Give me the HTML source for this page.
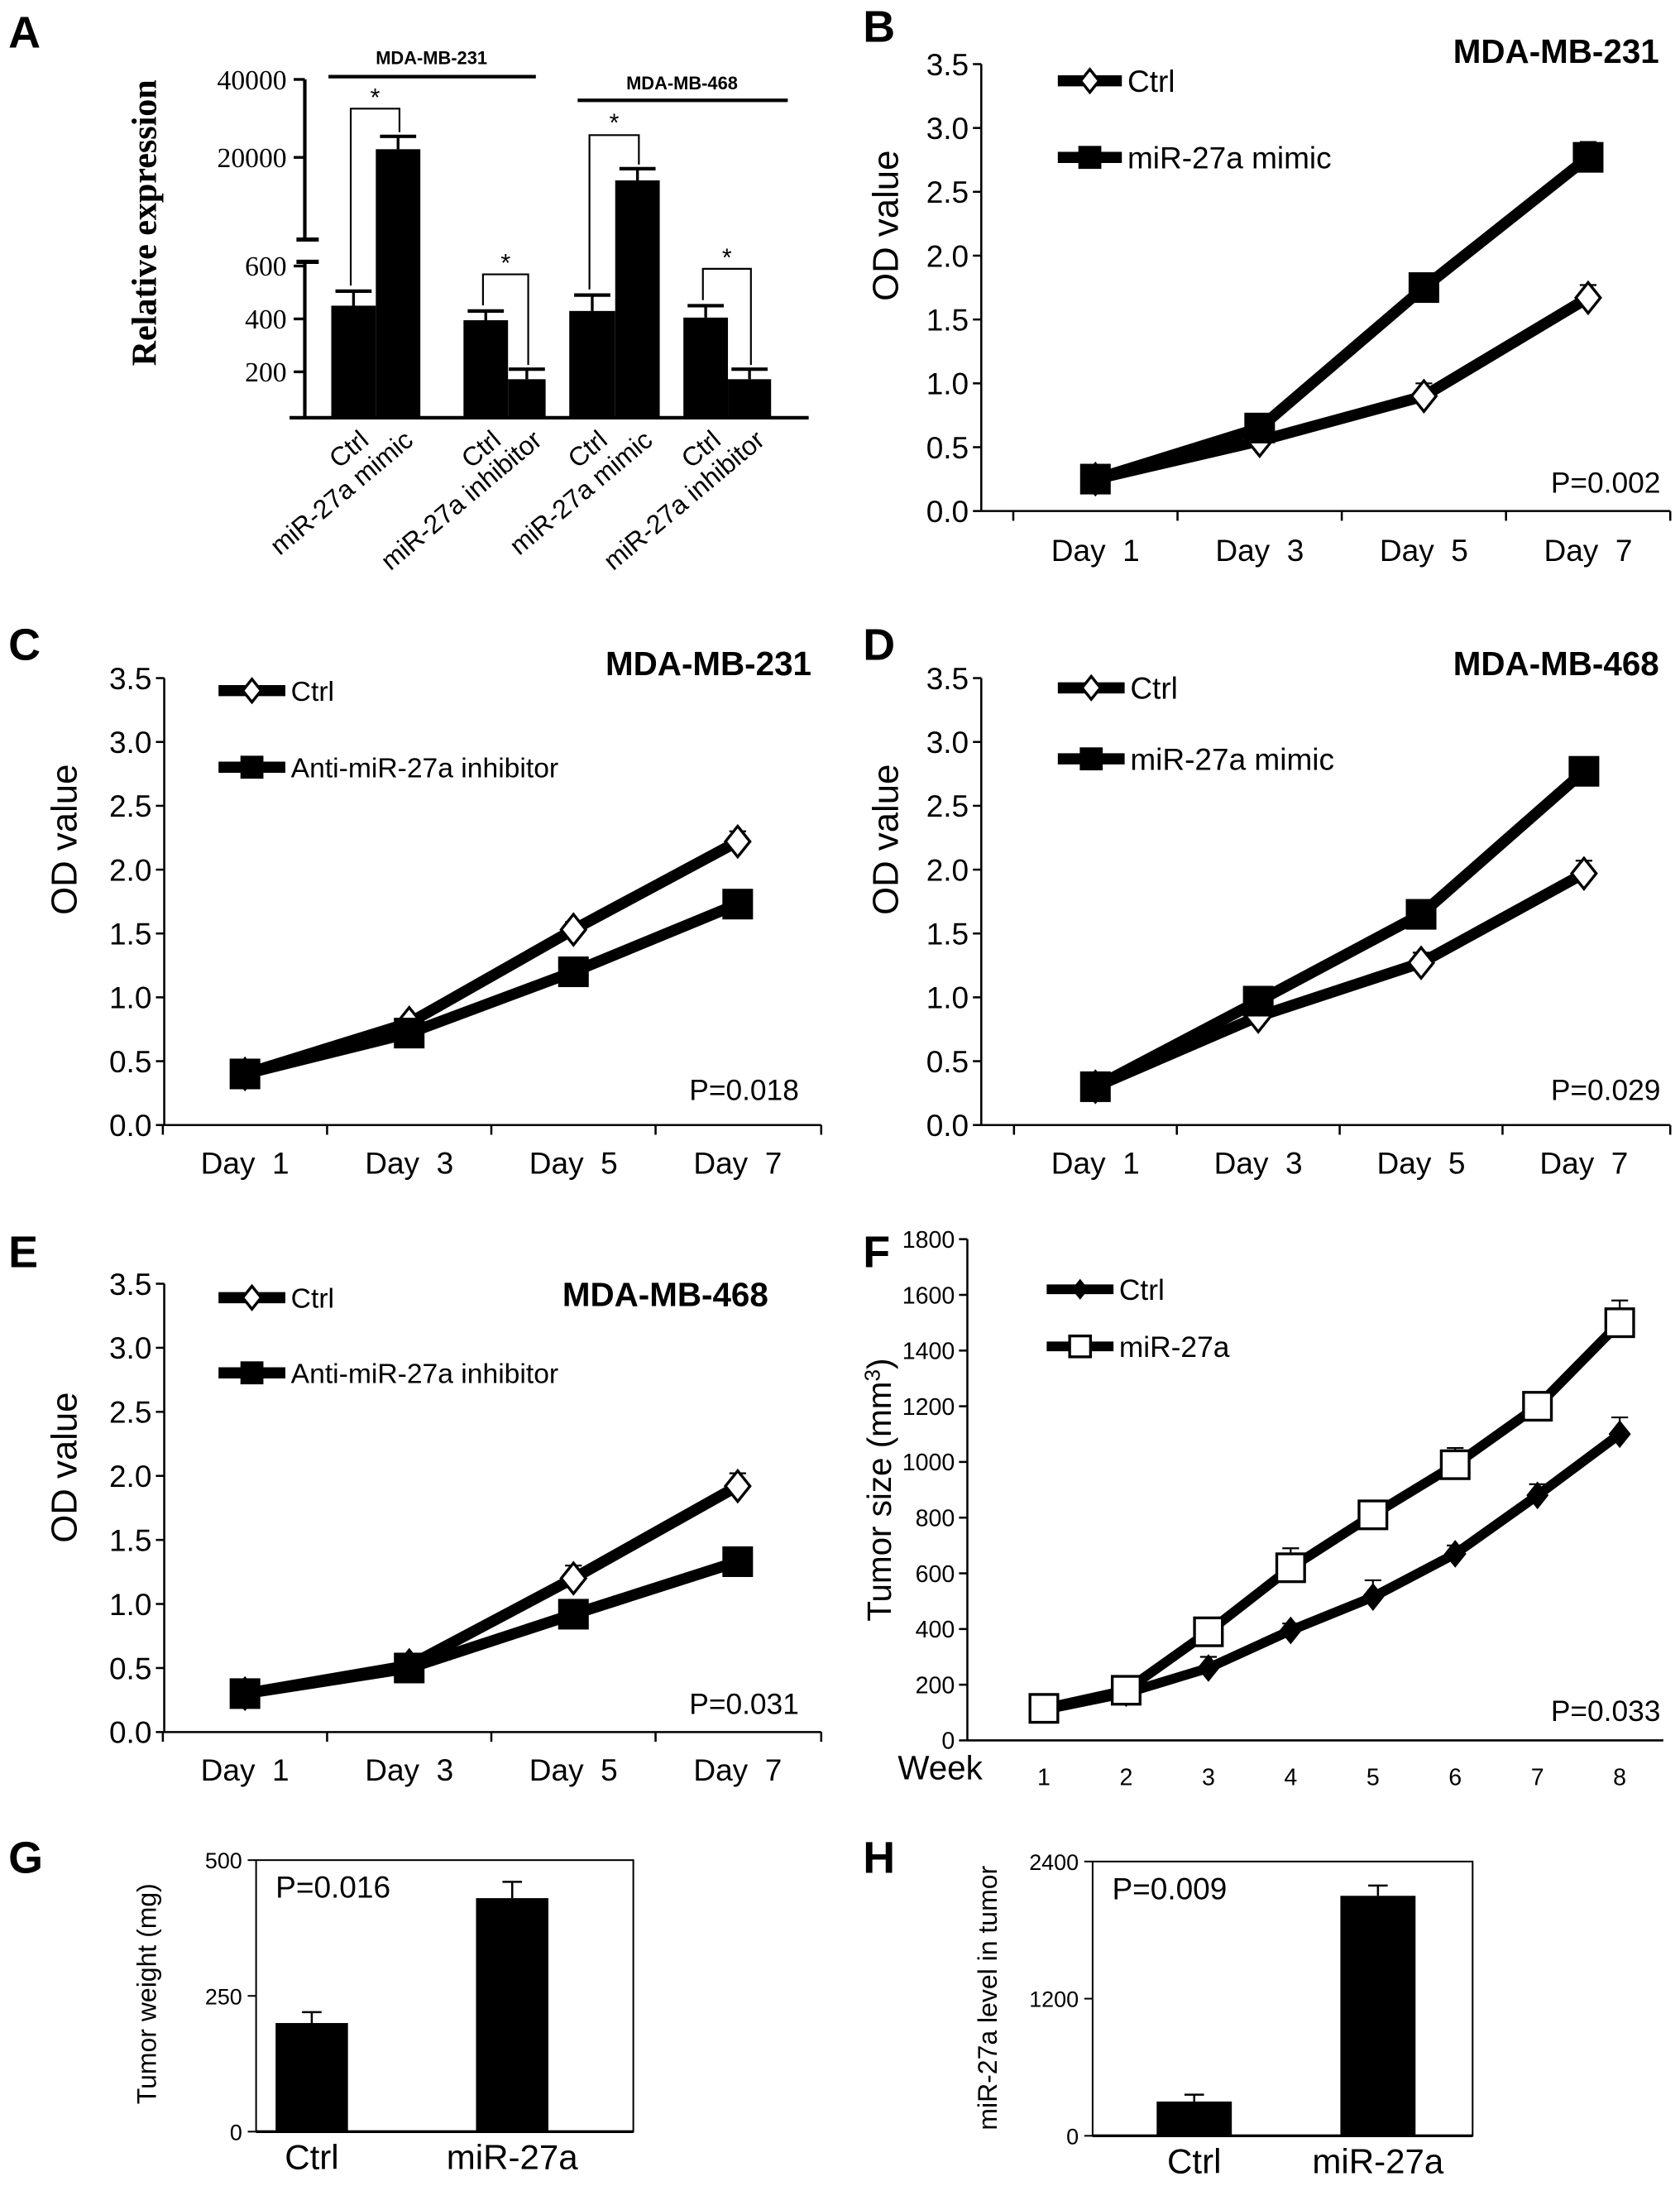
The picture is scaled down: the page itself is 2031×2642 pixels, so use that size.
<!DOCTYPE html>
<html><head><meta charset="utf-8"><style>
html,body{margin:0;padding:0;background:#fff}
svg{display:block}
text{font-family:"Liberation Sans",Arial,sans-serif;fill:#000;white-space:pre}
.serif{font-family:"Liberation Serif","Times New Roman",serif}
</style></head><body>
<svg id="fig" width="2031" height="2642" viewBox="0 0 1207 1570" xmlns="http://www.w3.org/2000/svg"></svg>
<script>
// ---- Panel A data ----
const aCats = ["Ctrl","miR-27a mimic","Ctrl","miR-27a inhibitor","Ctrl","miR-27a mimic","Ctrl","miR-27a inhibitor"];
const aVals = [450,22100,395,172,430,14100,405,172];
const aErrs = [55,3300,35,38,60,3000,45,38];
const aUpperTicks = [20000,40000];
const aLowerTicks = [200,400,600];
// ---- Line chart data ----
const dayLabels = ["Day  1","Day  3","Day  5","Day  7"];
const odTicks = [0,0.5,1,1.5,2,2.5,3,3.5];
const bCtrl = [0.25,0.55,0.9,1.67];
const bMimic = [0.25,0.65,1.75,2.77];
const bCtrlErr = [0.03,0.05,0.1,0.1];
const bMimicErr = [0.03,0.05,0.1,0.12];
const cCtrl = [0.4,0.8,1.53,2.22];
const cInh = [0.4,0.72,1.2,1.73];
const cCtrlErr = [0.03,0.05,0.06,0.08];
const cInhErr = [0.03,0.04,0.05,0.06];
const dCtrl = [0.3,0.85,1.27,1.97];
const dMimic = [0.3,0.97,1.65,2.77];
const dCtrlErr = [0.03,0.04,0.08,0.1];
const dMimicErr = [0.03,0.05,0.07,0.08];
const eCtrl = [0.3,0.52,1.2,1.92];
const eInh = [0.3,0.5,0.92,1.33];
const eCtrlErr = [0.03,0.05,0.1,0.1];
const eInhErr = [0.03,0.04,0.05,0.06];
const weekLabels = ["1","2","3","4","5","6","7","8"];
const fTicks = [0,200,400,600,800,1000,1200,1400,1600,1800];
const fCtrl = [110,170,260,395,515,670,880,1100];
const fMir = [115,180,390,620,810,990,1200,1500];
const fCtrlErr = [15,20,40,25,60,30,40,60];
const fMirErr = [20,25,30,70,30,60,30,80];
const gCats = ["Ctrl","miR-27a"];
const gVals = [200,430];
const gErrs = [20,30];
const gTicks = [0,250,500];
const hCats = ["Ctrl","miR-27a"];
const hVals = [300,2100];
const hErrs = [60,90];
const hTicks = [0,1200,2400];

const svg = document.getElementById('fig');
const NS = 'http://www.w3.org/2000/svg';
function mk(tag, attrs, parent){
  const e = document.createElementNS(NS, tag);
  for (const k in attrs) e.setAttribute(k, attrs[k]);
  (parent||svg).appendChild(e);
  return e;
}
function txt(s, x, y, size, opts, parent){
  opts = opts||{};
  const t = mk('text', {x:x, y:y, 'font-size':size}, parent);
  if (opts.anchor) t.setAttribute('text-anchor', opts.anchor);
  if (opts.weight) t.setAttribute('font-weight', opts.weight);
  if (opts.cls) t.setAttribute('class', opts.cls);
  if (opts.rot !== undefined) t.setAttribute('transform', 'rotate(' + opts.rot + ' ' + x + ' ' + y + ')');
  t.textContent = s;
  return t;
}
function letter(s, x, y){
  const t = txt(s, x, y, 32, {weight:'bold'});
  
  
}

// ===== Panel A =====
(function(){
  const g = mk('g', {});
  
  
  letter('A', 6, 34);
  const ax = 219, base = 300;
  const yLow = v => 305 - v * 0.19;
  const yUp = v => 169 - v * 0.0028;
  const y = v => v > 1000 ? yUp(v) : yLow(v);
  mk('line', {x1:ax, y1:57, x2:ax, y2:172, stroke:'#000', 'stroke-width':2.5}, g);
  mk('line', {x1:ax, y1:188, x2:ax, y2:base, stroke:'#000', 'stroke-width':2.5}, g);
  mk('line', {x1:ax-6, y1:172, x2:ax+10, y2:172, stroke:'#000', 'stroke-width':3}, g);
  mk('line', {x1:ax-6, y1:188, x2:ax+10, y2:188, stroke:'#000', 'stroke-width':3}, g);
  mk('line', {x1:208, y1:base, x2:581, y2:base, stroke:'#000', 'stroke-width':2.5}, g);
  aUpperTicks.forEach(v => {
    mk('line', {x1:ax-8, y1:yUp(v), x2:ax, y2:yUp(v), stroke:'#000', 'stroke-width':2}, g);
    txt(String(v), 206, yUp(v)+7, 20, {anchor:'end', cls:'serif'}, g);
  });
  aLowerTicks.forEach(v => {
    mk('line', {x1:ax-8, y1:yLow(v), x2:ax, y2:yLow(v), stroke:'#000', 'stroke-width':2}, g);
    txt(String(v), 206, yLow(v)+7, 20, {anchor:'end', cls:'serif'}, g);
  });
  const yt = txt('Relative expression', 112, 160, 25, {anchor:'middle', weight:'bold', cls:'serif', rot:-90}, g);
  
  
  const lefts = [238,270,333,365,409,442,491,523];
  const widths = [32,32,32,27,33,32,32,31];
  const centers = [];
  aVals.forEach((v, i) => {
    const x = lefts[i], w = widths[i], cx = x + w/2;
    centers.push(cx);
    const top = y(v), et = y(v + aErrs[i]);
    mk('line', {x1:cx, y1:top, x2:cx, y2:et, stroke:'#000', 'stroke-width':2}, g);
    mk('line', {x1:cx-13, y1:et, x2:cx+13, y2:et, stroke:'#000', 'stroke-width':2.5}, g);
    const r = mk('rect', {x:x, y:top, width:w, height:base-top, fill:'#000'}, g);
    
    
    txt(aCats[i], cx + 12, 318, 19, {anchor:'end', rot:-40}, g);
  });
  [[0,1,78,68],[2,3,197,187],[4,5,97,86],[6,7,193,183]].forEach(b => {
    const x1 = centers[b[0]] - 2, x2 = centers[b[1]] + 1;
    const y1 = y(aVals[b[0]] + aErrs[b[0]]) - 4, y2 = y(aVals[b[1]] + aErrs[b[1]]) - 3;
    mk('polyline', {points: x1+','+y1+' '+x1+','+b[2]+' '+x2+','+b[2]+' '+x2+','+y2, fill:'none', stroke:'#000', 'stroke-width':1.3}, g);
    txt('*', (x1+x2)/2, b[3]+8, 18, {anchor:'middle'}, g);
  });
  mk('line', {x1:236, y1:55, x2:385, y2:55, stroke:'#000', 'stroke-width':2.5}, g);
  txt('MDA-MB-231', 310, 46, 13, {anchor:'middle', weight:'bold'}, g);
  mk('line', {x1:415, y1:72, x2:566, y2:72, stroke:'#000', 'stroke-width':2.5}, g);
  txt('MDA-MB-468', 490, 64, 13, {anchor:'middle', weight:'bold'}, g);
})();

// ===== Line charts =====
function lineChart(cfg){
  const g = mk('g', {});
  
  
  letter(cfg.letter, cfg.lx, cfg.ly);
  const yv = v => cfg.y0 - (v - cfg.ticks[0]) / (cfg.ticks[cfg.ticks.length-1] - cfg.ticks[0]) * (cfg.y0 - cfg.yTop);
  const xs = i => cfg.xFirst + i * cfg.xStep;
  const axis = mk('g', {}, g);
  
  
  mk('line', {x1:cfg.ax, y1:cfg.yTop, x2:cfg.ax, y2:cfg.y0, stroke:'#000', 'stroke-width':1.5}, axis);
  mk('line', {x1:cfg.ax, y1:cfg.y0, x2:cfg.axEnd, y2:cfg.y0, stroke:'#000', 'stroke-width':1.5}, g);
  cfg.ticks.forEach(v => {
    mk('line', {x1:cfg.ax-6, y1:yv(v), x2:cfg.ax, y2:yv(v), stroke:'#000', 'stroke-width':1.5}, axis);
    txt(cfg.fmt(v), cfg.ax-9, yv(v)+cfg.tickFs*0.36, cfg.tickFs, {anchor:'end'}, axis);
  });
  cfg.cats.forEach((c, i) => {
    const bx = xs(i) - cfg.xStep/2;
    if (cfg.catTicks) mk('line', {x1:bx, y1:cfg.y0, x2:bx, y2:cfg.y0+7, stroke:'#000', 'stroke-width':1.5}, g);
    txt(c, xs(i) + (cfg.catDx||0), cfg.catY, cfg.catFs, {anchor:'middle'}, g);
  });
  if (cfg.catTicks) mk('line', {x1:cfg.axEnd, y1:cfg.y0, x2:cfg.axEnd, y2:cfg.y0+7, stroke:'#000', 'stroke-width':1.5}, g);
  const yt = txt(cfg.ytitle, cfg.ytx, cfg.yty, cfg.ytFs, {anchor:'middle', rot:-90}, g);
  
  
  if (cfg.ytitleSup) { const ts = mk('tspan', {'font-size':cfg.ytFs*0.65, dy:-8}, yt); ts.textContent = '3'; const t2 = mk('tspan', {dy:8}, yt); t2.textContent = ')'; }
  function marker(type, x, yy, parent){
    const s = cfg.msize;
    if (type === 'diamondOpen') mk('polygon', {points:(x)+','+(yy-s)+' '+(x+s*0.8)+','+yy+' '+x+','+(yy+s)+' '+(x-s*0.8)+','+yy, fill:'#fff', stroke:'#000', 'stroke-width':2}, parent);
    else if (type === 'diamondFill') mk('polygon', {points:(x)+','+(yy-s)+' '+(x+s*0.8)+','+yy+' '+x+','+(yy+s)+' '+(x-s*0.8)+','+yy, fill:'#000'}, parent);
    else if (type === 'squareOpen') mk('rect', {x:x-s, y:yy-s, width:2*s, height:2*s, fill:'#fff', stroke:'#000', 'stroke-width':2}, parent);
    else mk('rect', {x:x-s, y:yy-s, width:2*s, height:2*s, fill:'#000'}, parent);
  }
  cfg.series.forEach((s, si) => {
    const sg = mk('g', {}, g);
    
    
    s.vals.forEach((v, i) => {
      const top = yv(v + s.errs[i]);
      mk('line', {x1:xs(i), y1:yv(v), x2:xs(i), y2:top, stroke:'#000', 'stroke-width':1.3}, sg);
      mk('line', {x1:xs(i)-6, y1:top, x2:xs(i)+6, y2:top, stroke:'#000', 'stroke-width':1.3}, sg);
    });
    mk('polyline', {points: s.vals.map((v,i)=>xs(i)+','+yv(v)).join(' '), fill:'none', stroke:'#000', 'stroke-width':cfg.lw, 'stroke-linejoin':'round'}, sg);
  });
  cfg.series.forEach(s => {
    const sg = mk('g', {}, g);
    s.vals.forEach((v, i) => marker(s.marker, xs(i), yv(v), sg));
    const lg = mk('g', {}, g);
    
    
    mk('line', {x1:cfg.legX, y1:s.legY, x2:cfg.legX+cfg.legW, y2:s.legY, stroke:'#000', 'stroke-width':cfg.lw}, lg);
    const ms = cfg.msize; cfg.msize = ms*0.75;
    marker(s.marker, cfg.legX+cfg.legW/2, s.legY, lg);
    cfg.msize = ms;
    txt(s.label, cfg.legX+cfg.legW+4, s.legY+cfg.legFs*0.36, cfg.legFs, {}, lg);
  });
  if (cfg.title) txt(cfg.title, cfg.titleX, cfg.titleY, 24, {anchor:'end', weight:'bold'}, g);
  txt(cfg.p, cfg.pX, cfg.pY, 21, {anchor:'end'}, g);
  if (cfg.extra) cfg.extra(g);
}
const odFmt = v => v.toFixed(1);
lineChart({name:'panel-b-line-chart', letter:'B', lx:620, ly:30, ticks:odTicks, fmt:odFmt, tickFs:22,
  ax:705, axEnd:1200, y0:367, yTop:46, xFirst:787, xStep:118, cats:dayLabels, catY:403, catFs:22, catDx:0, catTicks:true,
  ytitle:'OD value', ytx:645, yty:162, ytFs:26, lw:8, msize:11,
  series:[{key:'ctrl', label:'Ctrl', vals:bCtrl, errs:bCtrlErr, marker:'diamondOpen', legY:58},
          {key:'mimic', label:'miR-27a mimic', vals:bMimic, errs:bMimicErr, marker:'squareFill', legY:113}],
  legX:760, legW:46, legFs:22, title:'MDA-MB-231', titleX:1192, titleY:45, p:'P=0.002', pX:1193, pY:354});
lineChart({name:'panel-c-line-chart', letter:'C', lx:6, ly:474, ticks:odTicks, fmt:odFmt, tickFs:22,
  ax:118, axEnd:590, y0:808, yTop:487, xFirst:176, xStep:118, cats:dayLabels, catY:843, catFs:22, catTicks:true,
  ytitle:'OD value', ytx:55, yty:603, ytFs:26, lw:8, msize:11,
  series:[{key:'ctrl', label:'Ctrl', vals:cCtrl, errs:cCtrlErr, marker:'diamondOpen', legY:496},
          {key:'inhibitor', label:'Anti-miR-27a inhibitor', vals:cInh, errs:cInhErr, marker:'squareFill', legY:551}],
  legX:157, legW:48, legFs:20, title:'MDA-MB-231', titleX:583, titleY:485, p:'P=0.018', pX:574, pY:790});
lineChart({name:'panel-d-line-chart', letter:'D', lx:620, ly:474, ticks:odTicks, fmt:odFmt, tickFs:22,
  ax:705, axEnd:1200, y0:808, yTop:487, xFirst:787, xStep:117, cats:dayLabels, catY:843, catFs:22, catTicks:true,
  ytitle:'OD value', ytx:645, yty:603, ytFs:26, lw:8, msize:11,
  series:[{key:'ctrl', label:'Ctrl', vals:dCtrl, errs:dCtrlErr, marker:'diamondOpen', legY:494},
          {key:'mimic', label:'miR-27a mimic', vals:dMimic, errs:dMimicErr, marker:'squareFill', legY:545}],
  legX:760, legW:48, legFs:22, title:'MDA-MB-468', titleX:1192, titleY:485, p:'P=0.029', pX:1193, pY:790});
lineChart({name:'panel-e-line-chart', letter:'E', lx:6, ly:910, ticks:odTicks, fmt:odFmt, tickFs:22,
  ax:118, axEnd:590, y0:1244, yTop:922, xFirst:176, xStep:118, cats:dayLabels, catY:1279, catFs:22, catTicks:true,
  ytitle:'OD value', ytx:55, yty:1054, ytFs:26, lw:8, msize:11,
  series:[{key:'ctrl', label:'Ctrl', vals:eCtrl, errs:eCtrlErr, marker:'diamondOpen', legY:932},
          {key:'inhibitor', label:'Anti-miR-27a inhibitor', vals:eInh, errs:eInhErr, marker:'squareFill', legY:986}],
  legX:157, legW:48, legFs:20, title:'MDA-MB-468', titleX:552, titleY:938, p:'P=0.031', pX:574, pY:1231});
lineChart({name:'panel-f-line-chart', letter:'F', lx:620, ly:910, ticks:fTicks, fmt:v=>String(v), tickFs:17,
  ax:695, axEnd:1195, y0:1250, yTop:890, xFirst:750, xStep:59.1, cats:weekLabels, catY:1282, catFs:17, catTicks:false,
  ytitle:'Tumor size (mm', ytitleSup:true, ytx:640, yty:1070, ytFs:24, lw:7, msize:10,
  series:[{key:'ctrl', label:'Ctrl', vals:fCtrl, errs:fCtrlErr, marker:'diamondFill', legY:926},
          {key:'mir27a', label:'miR-27a', vals:fMir, errs:fMirErr, marker:'squareOpen', legY:967}],
  legX:752, legW:48, legFs:21, title:null, p:'P=0.033', pX:1193, pY:1236,
  extra: g => txt('Week', 645, 1278, 24, {}, g)});

// ===== Bar charts G, H =====
function barChart(cfg){
  const g = mk('g', {});
  
  
  letter(cfg.letter, cfg.lx, cfg.ly);
  const max = cfg.ticks[cfg.ticks.length-1];
  const yv = v => cfg.y0 - v / max * (cfg.y0 - cfg.yTop);
  mk('rect', {x:cfg.x0, y:cfg.yTop, width:cfg.x1-cfg.x0, height:cfg.y0-cfg.yTop, fill:'none', stroke:'#000', 'stroke-width':1.2}, g);
  mk('line', {x1:cfg.x0, y1:cfg.y0, x2:cfg.x1, y2:cfg.y0, stroke:'#000', 'stroke-width':2}, g);
  cfg.ticks.forEach(v => {
    mk('line', {x1:cfg.x0-6, y1:yv(v), x2:cfg.x0, y2:yv(v), stroke:'#000', 'stroke-width':1.2}, g);
    txt(String(v), cfg.x0-10, yv(v)+6, 16, {anchor:'end'}, g);
  });
  cfg.vals.forEach((v, i) => {
    const cx = cfg.centers[i], w = cfg.bw;
    const top = yv(v), et = yv(v + cfg.errs[i]);
    mk('line', {x1:cx, y1:top, x2:cx, y2:et, stroke:'#000', 'stroke-width':1.5}, g);
    mk('line', {x1:cx-7, y1:et, x2:cx+7, y2:et, stroke:'#000', 'stroke-width':1.5}, g);
    const r = mk('rect', {x:cx-w/2, y:top, width:w, height:cfg.y0-top, fill:'#000'}, g);
    
    
    txt(cfg.cats[i], cx, cfg.y0+27, 25, {anchor:'middle'}, g);
  });
  const yt = txt(cfg.ytitle, cfg.ytx, cfg.yty, 19, {anchor:'middle', rot:-90}, g);
  
  
  txt(cfg.p, cfg.x0+14, cfg.yTop+27, 22, {}, g);
}
barChart({name:'panel-g-bar-chart', letter:'G', lx:6, ly:1345, ticks:gTicks, vals:gVals, errs:gErrs, cats:gCats,
  x0:184, x1:455, y0:1531, yTop:1336, centers:[224,368], bw:52, ytitle:'Tumor weight (mg)', ytx:112, yty:1432, p:'P=0.016'});
barChart({name:'panel-h-bar-chart', letter:'H', lx:620, ly:1345, ticks:hTicks, vals:hVals, errs:hErrs, cats:hCats,
  x0:785, x1:1058, y0:1534, yTop:1337, centers:[858,990], bw:54, ytitle:'miR-27a level in tumor', ytx:716, yty:1435, p:'P=0.009'});
</script>
</body></html>
